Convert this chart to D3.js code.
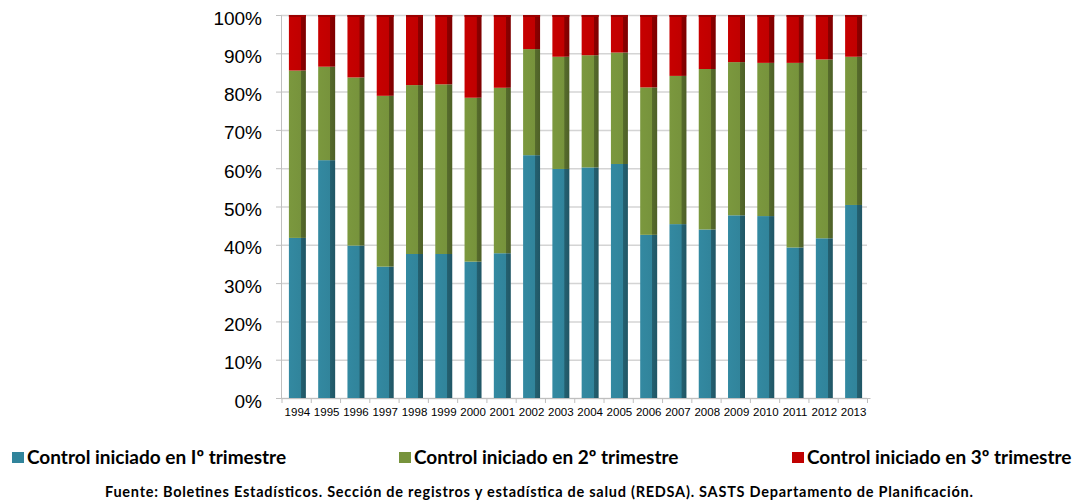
<!DOCTYPE html>
<html>
<head>
<meta charset="utf-8">
<script src="https://cdn.jsdelivr.net/npm/d3@7"></script>
<style>
  body { margin: 0; background: #fff; }
  svg { display: block; font-family: Lato, "Open Sans", sans-serif; }
</style>
</head>
<body>
<div id="chart"></div>
<script>
var years = ['1994','1995','1996','1997','1998','1999','2000','2001','2002','2003',
             '2004','2005','2006','2007','2008','2009','2010','2011','2012','2013'];
// % de controles por trimestre de inicio
var primer  = [41.8, 62.1, 39.8, 34.3, 37.6, 37.6, 35.6, 37.8, 63.4, 59.8, 60.2, 61.1, 42.6, 45.4, 44.0, 47.7, 47.5, 39.3, 41.7, 50.4];
var segundo = [43.7, 24.4, 43.9, 44.6, 44.1, 44.3, 42.8, 43.2, 27.7, 29.3, 29.3, 29.1, 38.5, 38.7, 41.9, 40.0, 40.0, 48.2, 46.7, 38.7];
var tercero = [14.5, 13.5, 16.3, 21.1, 18.3, 18.1, 21.6, 19.0,  8.9, 10.9, 10.5,  9.8, 18.9, 15.9, 14.1, 12.3, 12.5, 12.5, 11.6, 10.9];
var yTicks = [0, 10, 20, 30, 40, 50, 60, 70, 80, 90, 100];
var seriesNames = ['Control iniciado en Iº trimestre', 'Control iniciado en 2º trimestre', 'Control iniciado en 3º trimestre'];
var seriesColors = ['#31849b', '#77933c', '#c00000'];
var fuente = 'Fuente: Boletines Estadísticos. Sección de registros y estadística de salud (REDSA).  SASTS Departamento de Planificación.';

var width = 1090, height = 502;
var svg = d3.select('#chart').append('svg')
  .attr('width', width).attr('height', height);

var x = d3.scaleBand().domain(years).range([281, 870])
  .paddingInner(0.42).paddingOuter(0.27);
var y = d3.scaleLinear().domain([0, 100]).range([398, 15]);

// gradients for the 3D look
var defs = svg.append('defs');
seriesColors.forEach(function (c, i) {
  var g = defs.append('linearGradient').attr('id', 'grad' + i)
    .attr('x1', '0%').attr('x2', '100%').attr('y1', '0%').attr('y2', '0%');
  var dark = d3.color(c).darker(0.9);
  g.append('stop').attr('offset', '0%').attr('stop-color', d3.color(c).brighter(0.1));
  g.append('stop').attr('offset', '70%').attr('stop-color', c);
  g.append('stop').attr('offset', '72%').attr('stop-color', dark);
  g.append('stop').attr('offset', '100%').attr('stop-color', dark.darker(0.3));
});

// gridlines
svg.append('g').selectAll('line').data(yTicks).enter().append('line')
  .attr('x1', 281).attr('x2', 867)
  .attr('y1', function (d) { return y(d) + 0.5; })
  .attr('y2', function (d) { return y(d) + 0.5; })
  .attr('stroke', '#d4d4d4').attr('stroke-width', 1.5);

// y axis
var yAxis = svg.append('g').attr('transform', 'translate(281,0)')
  .call(d3.axisLeft(y).tickValues(yTicks).tickSize(5).tickPadding(14)
    .tickFormat(function (d) { return d + '%'; }));
yAxis.select('.domain').attr('stroke', '#bfbfbf');
yAxis.selectAll('.tick line').attr('stroke', '#bfbfbf');
yAxis.selectAll('text').attr('font-size', 19).attr('fill', '#000').attr('y', 3);

// x axis
var xAxis = svg.append('g').attr('transform', 'translate(0,398)')
  .call(d3.axisBottom(x).tickSize(0).tickPadding(10));
xAxis.select('.domain').attr('stroke', '#bfbfbf');
xAxis.selectAll('text').attr('font-size', 11.5).attr('fill', '#000');
// ticks between categories
svg.append('g').selectAll('line').data(d3.range(years.length + 1)).enter().append('line')
  .attr('x1', function (i) { return 281 + i * x.step() + 1; })
  .attr('x2', function (i) { return 281 + i * x.step() + 1; })
  .attr('y1', 398).attr('y2', 403)
  .attr('stroke', '#bfbfbf');

// stacked bars
var rows = years.map(function (yr, i) {
  return { year: yr, s0: primer[i], s1: segundo[i], s2: tercero[i] };
});
var stack = d3.stack().keys(['s0', 's1', 's2']);
var layers = stack(rows);

svg.append('g').selectAll('g').data(layers).enter().append('g')
  .attr('fill', function (d, i) { return 'url(#grad' + i + ')'; })
  .selectAll('rect').data(function (d) { return d; }).enter().append('rect')
  .attr('x', function (d) { return x(d.data.year); })
  .attr('width', x.bandwidth())
  .attr('y', function (d) { return y(d[1]); })
  .attr('height', function (d) { return y(d[0]) - y(d[1]); });

// darker cap on top of each column
svg.append('g').selectAll('rect').data(years).enter().append('rect')
  .attr('x', function (d) { return x(d); })
  .attr('width', x.bandwidth())
  .attr('y', y(100)).attr('height', 2)
  .attr('fill', d3.color(seriesColors[2]).darker(0.6));

// legend
var legendX = [12, 399, 792];
var legend = svg.append('g').selectAll('g').data(seriesNames).enter().append('g')
  .attr('transform', function (d, i) { return 'translate(' + legendX[i] + ',452)'; });
legend.append('rect').attr('width', 12).attr('height', 11)
  .attr('fill', function (d, i) { return seriesColors[i]; });
legend.append('text').attr('x', 15).attr('y', 11.5)
  .attr('font-size', 19).attr('font-weight', 'bold').attr('fill', '#000')
  .text(function (d) { return d; });

// source
svg.append('text').attr('x', 105).attr('y', 497)
  .attr('font-size', 14.5).attr('font-weight', 'bold')
  .attr('textLength', 868).attr('lengthAdjust', 'spacing')
  .attr('fill', '#000').text(fuente);
</script>
</body>
</html>
